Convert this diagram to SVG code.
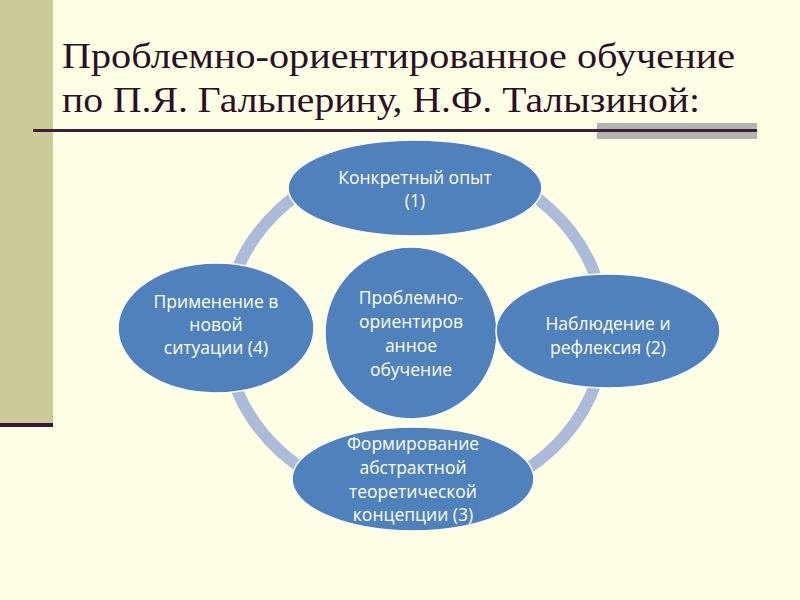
<svg xmlns="http://www.w3.org/2000/svg" width="800" height="600" viewBox="0 0 800 600">
<style>
.title{font-family:"Liberation Serif","Times New Roman",serif;font-size:36px;fill:#2a0f27}
.node ellipse,.node circle{fill:#4f81bd;stroke:#ffffff;stroke-width:1.5}
.node text{font-family:"Open Sans","Liberation Sans",sans-serif;font-size:17.5px;fill:#ffffff;text-anchor:middle}
.ring{fill:none;stroke:#abbcdb;stroke-width:12}
</style>
<rect width="800" height="600" fill="#ffffe5"/>
<rect x="0" y="0" width="53" height="424" fill="#cbcb9a"/>
<rect x="0" y="423" width="53" height="4" fill="#3a1a33"/>
<text class="title" x="62" y="68" textLength="673" lengthAdjust="spacingAndGlyphs">Проблемно-ориентированное обучение</text>
<text class="title" x="62" y="112" textLength="638" lengthAdjust="spacingAndGlyphs">по П.Я. Гальперину, Н.Ф. Талызиной:</text>
<rect x="597" y="123" width="160" height="16" fill="#b3b3b3"/>
<rect x="33" y="129" width="724" height="3" fill="#3c1e36"/>
<g id="connectors">
<ellipse class="ring" cx="415" cy="330" rx="190" ry="172"/>
</g>
<g id="center" class="node">
<circle cx="411" cy="333" r="86"/>
<text x="411" y="304">Проблемно-</text>
<text x="411" y="328">ориентиров</text>
<text x="411" y="352">анное</text>
<text x="411" y="376">обучение</text>
</g>
<g id="n1" class="node">
<ellipse cx="415" cy="188" rx="127" ry="48"/>
<text x="415" y="184">Конкретный опыт</text>
<text x="415" y="207">(1)</text>
</g>
<g id="n2" class="node">
<ellipse cx="608" cy="331" rx="112" ry="57"/>
<text x="608" y="330">Наблюдение и</text>
<text x="608" y="354">рефлексия (2)</text>
</g>
<g id="n3" class="node">
<ellipse cx="413" cy="479" rx="121" ry="52"/>
<text x="413" y="450">Формирование</text>
<text x="413" y="474">абстрактной</text>
<text x="413" y="498">теоретической</text>
<text x="413" y="521">концепции  (3)</text>
</g>
<g id="n4" class="node">
<ellipse cx="216" cy="328" rx="98" ry="65"/>
<text x="216" y="308">Применение в</text>
<text x="216" y="331">новой</text>
<text x="216" y="354">ситуации (4)</text>
</g>
</svg>
